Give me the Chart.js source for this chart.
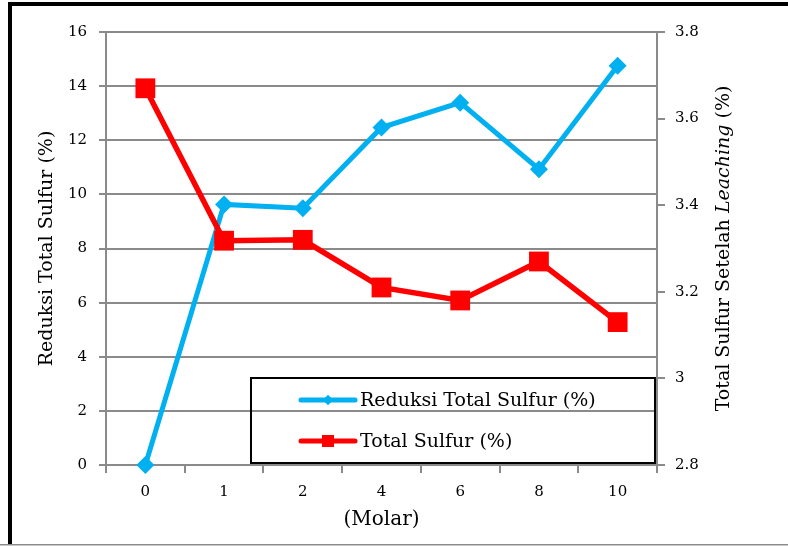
<!DOCTYPE html>
<html>
<head>
<meta charset="utf-8">
<script src="https://cdn.jsdelivr.net/npm/chart.js@4.4.1/dist/chart.umd.min.js"></script>
<style>
  html, body { margin: 0; padding: 0; background: #ffffff; }
  #wrap { width: 788px; height: 546px; position: relative; }
</style>
</head>
<body>
<div id="wrap"><canvas id="chart" width="788" height="546"></canvas></div>
<script>
// Concentration categories (Molar)
const concentrations = ['0', '1', '2', '4', '6', '8', '10'];
// Reduksi Total Sulfur (%) - left axis
const sulfurReduction = [0, 9.63, 9.49, 12.47, 13.39, 10.93, 14.75];
// Total Sulfur setelah leaching (%) - right axis
const sulfurAfterLeaching = [3.67, 3.318, 3.32, 3.21, 3.18, 3.27, 3.13];
// Axis tick values
const leftTicks = [0, 2, 4, 6, 8, 10, 12, 14, 16];
const rightTicks = [2.8, 3, 3.2, 3.4, 3.6, 3.8];

const SERIF = '"DejaVu Serif", "Liberation Serif", serif';
const GRID = '#8a8a8a';
const BLUE = '#00b0f0';
const RED = '#ff0000';

// Page frame: white background, heavy black top/left rules, thin grey bottom rule
const framePlugin = {
  id: 'frame',
  beforeDraw(chart) {
    const ctx = chart.ctx;
    ctx.save();
    ctx.fillStyle = '#ffffff';
    ctx.fillRect(0, 0, chart.width, chart.height);
    ctx.restore();
  },
  afterDraw(chart) {
    const ctx = chart.ctx;
    ctx.save();
    ctx.fillStyle = '#000000';
    ctx.fillRect(8, 2, chart.width - 8, 4);
    ctx.fillRect(8, 2, 4, chart.height - 4);
    ctx.fillStyle = '#8c8c8c';
    ctx.fillRect(0, chart.height - 2, chart.width, 1.5);
    ctx.restore();
  }
};

// Right-hand axis title, read bottom-to-top, with the word "Leaching" in italics
const rightTitlePlugin = {
  id: 'rightTitle',
  afterDraw(chart) {
    const ctx = chart.ctx;
    const area = chart.chartArea;
    const parts = [
      { text: 'Total Sulfur Setelah ', font: '19px ' + SERIF },
      { text: 'Leaching', font: 'italic 19px ' + SERIF },
      { text: ' (%)', font: '19px ' + SERIF }
    ];
    ctx.save();
    let total = 0;
    parts.forEach(p => { ctx.font = p.font; p.w = ctx.measureText(p.text).width; total += p.w; });
    const cx = 724;
    const cy = (area.top + area.bottom) / 2;
    ctx.translate(cx, cy);
    ctx.rotate(-Math.PI / 2);
    ctx.fillStyle = '#000000';
    ctx.textBaseline = 'middle';
    ctx.textAlign = 'left';
    let x = -total / 2;
    parts.forEach(p => { ctx.font = p.font; ctx.fillText(p.text, x, 0); x += p.w; });
    ctx.restore();
  }
};

// Boxed legend in the lower right of the plot area
const boxLegendPlugin = {
  id: 'boxLegend',
  afterDraw(chart) {
    const ctx = chart.ctx;
    const area = chart.chartArea;
    const left = area.left + 145, right = area.right - 2;
    const top = area.bottom - 87, bottom = area.bottom - 2;
    ctx.save();
    ctx.strokeStyle = '#000000';
    ctx.lineWidth = 2;
    ctx.strokeRect(left, top, right - left, bottom - top);
    const rows = [top + 22, top + 63];
    const markers = [
      { style: 'rectRot', radius: 5 },
      { style: 'rect', radius: 8.5 }
    ];
    chart.data.datasets.forEach((ds, i) => {
      const y = rows[i];
      ctx.strokeStyle = ds.borderColor;
      ctx.lineWidth = 5;
      ctx.lineCap = 'round';
      ctx.beginPath();
      ctx.moveTo(left + 50, y);
      ctx.lineTo(left + 104, y);
      ctx.stroke();
      ctx.fillStyle = ds.borderColor;
      Chart.helpers.drawPoint(ctx, { pointStyle: markers[i].style, radius: markers[i].radius, borderWidth: 0, rotation: 0 }, left + 77, y);
      ctx.fill();
      ctx.fillStyle = '#000000';
      ctx.font = '19px ' + SERIF;
      ctx.textBaseline = 'middle';
      ctx.textAlign = 'left';
      ctx.fillText(ds.label, left + 109, y + 1);
    });
    ctx.restore();
  }
};

new Chart(document.getElementById('chart'), {
  type: 'line',
  data: {
    labels: concentrations,
    datasets: [
      {
        label: 'Reduksi Total Sulfur (%)',
        data: sulfurReduction,
        yAxisID: 'yLeft',
        borderColor: BLUE,
        backgroundColor: BLUE,
        borderWidth: 5,
        pointStyle: 'rectRot',
        pointRadius: 9,
        pointHoverRadius: 9,
        pointBorderWidth: 0,
        tension: 0,
        clip: false,
        order: 1
      },
      {
        label: 'Total Sulfur (%)',
        data: sulfurAfterLeaching,
        yAxisID: 'yRight',
        borderColor: RED,
        backgroundColor: RED,
        borderWidth: 5.5,
        pointStyle: 'rect',
        pointRadius: 14,
        pointHoverRadius: 14,
        pointBorderWidth: 0,
        tension: 0,
        clip: false,
        order: 0
      }
    ]
  },
  options: {
    responsive: false,
    animation: false,
    events: [],
    layout: { padding: { left: 0, right: 0, top: 32, bottom: 0 } },
    plugins: {
      legend: { display: false },
      tooltip: { enabled: false }
    },
    scales: {
      x: {
        type: 'category',
        offset: true,
        grid: { offset: true, drawOnChartArea: false, drawTicks: true, tickLength: 8, color: GRID, lineWidth: 2 },
        border: { display: true, color: GRID, width: 2 },
        ticks: { color: '#000000', font: { family: SERIF, size: 15 }, padding: 10, maxRotation: 0 },
        title: { display: true, text: '(Molar)', color: '#000000', font: { family: SERIF, size: 20, lineHeight: 1.2 }, padding: { top: 0, bottom: 14 } },
        afterFit(scale) { scale.height = 81; }
      },
      yLeft: {
        type: 'linear',
        position: 'left',
        min: 0,
        max: 16,
        afterBuildTicks(scale) { scale.ticks = leftTicks.map(v => ({ value: v })); },
        grid: { drawOnChartArea: true, drawTicks: true, tickLength: 7, color: GRID, lineWidth: 2 },
        border: { display: true, color: GRID, width: 2 },
        ticks: { color: '#000000', font: { family: SERIF, size: 15 }, padding: 12 },
        title: { display: true, text: 'Reduksi Total Sulfur (%)', color: '#000000', font: { family: SERIF, size: 19, lineHeight: 1.2 }, padding: { top: 36, bottom: 0 } },
        afterFit(scale) { scale.width = 106; }
      },
      yRight: {
        type: 'linear',
        position: 'right',
        min: 2.8,
        max: 3.8,
        afterBuildTicks(scale) { scale.ticks = rightTicks.map(v => ({ value: v })); },
        grid: { drawOnChartArea: false, drawTicks: true, tickLength: 8, color: GRID, lineWidth: 2 },
        border: { display: true, color: GRID, width: 2 },
        ticks: { color: '#000000', font: { family: SERIF, size: 15 }, padding: 10, callback: v => String(Number(v.toFixed(1))) },
        afterFit(scale) { scale.width = 131; }
      }
    }
  },
  plugins: [framePlugin, rightTitlePlugin, boxLegendPlugin]
});
</script>
</body>
</html>
